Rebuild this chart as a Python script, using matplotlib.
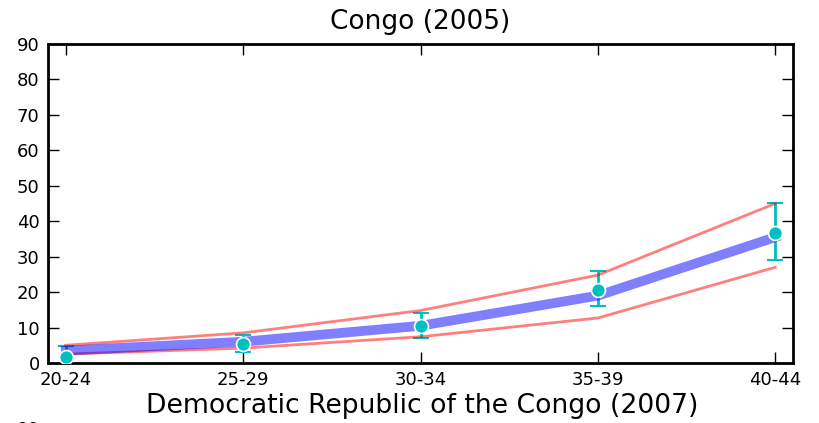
import numpy as np
import matplotlib
matplotlib.use("Agg")
from matplotlib import pyplot as plt

ages = ['20-24', '25-29', '30-34', '35-39', '40-44']
mean = [3.5, 6.0, 10.5, 19.0, 35.5]
upper = [5.0, 8.5, 14.8, 24.8, 45.0]
lower = [2.5, 4.2, 7.4, 12.7, 27.0]
obs = [1.7, 5.3, 10.5, 20.6, 36.8]
obs_hi = [4.8, 7.9, 14.1, 26.0, 45.0]
obs_lo = [-1.0, 3.1, 7.1, 16.1, 29.2]

fig = plt.figure(figsize=(8.2, 4.23), dpi=100)
ax = fig.add_axes([48/820, 1 - 363/423, 745/820, 319/423])

x = np.arange(len(ages))
o = np.array(obs)
err = [o - np.array(obs_lo), np.array(obs_hi) - o]

ax.errorbar(x, obs, yerr=err, fmt='none', ecolor='c', elinewidth=2,
            capsize=6, capthick=1.5, zorder=2)
ax.plot(x, upper, color='r', alpha=0.5, lw=2, zorder=3)
ax.plot(x, lower, color='r', alpha=0.5, lw=2, zorder=3)
ax.plot(x, mean, color='b', alpha=0.5, lw=7, zorder=4)
ax.plot(x, obs, 'o', color='c', mec='w', mew=1.2, ms=10, zorder=5)

ax.set_xlim(-0.1, 4.1)
ax.set_ylim(0, 90)
ax.set_xticks(x)
ax.set_xticklabels(ages)
ax.set_yticks(range(0, 91, 10))
ax.tick_params(direction='in', length=8, width=1, labelsize=13,
               top=True, right=True, pad=6)
for s in ax.spines.values():
    s.set_linewidth(2)

ax.set_title('Congo (2005)', fontsize=19, pad=11)

# title and first tick label of the next panel, cut off by the crop
fig.text(422/820, 1 - 406/423, 'Democratic Republic of the Congo (2007)',
         fontsize=19.2, ha='center', va='center')
fig.text(40/820, 1 - 430/423, '90', fontsize=13, ha='right', va='center')

fig.savefig('out.png', dpi=100)
